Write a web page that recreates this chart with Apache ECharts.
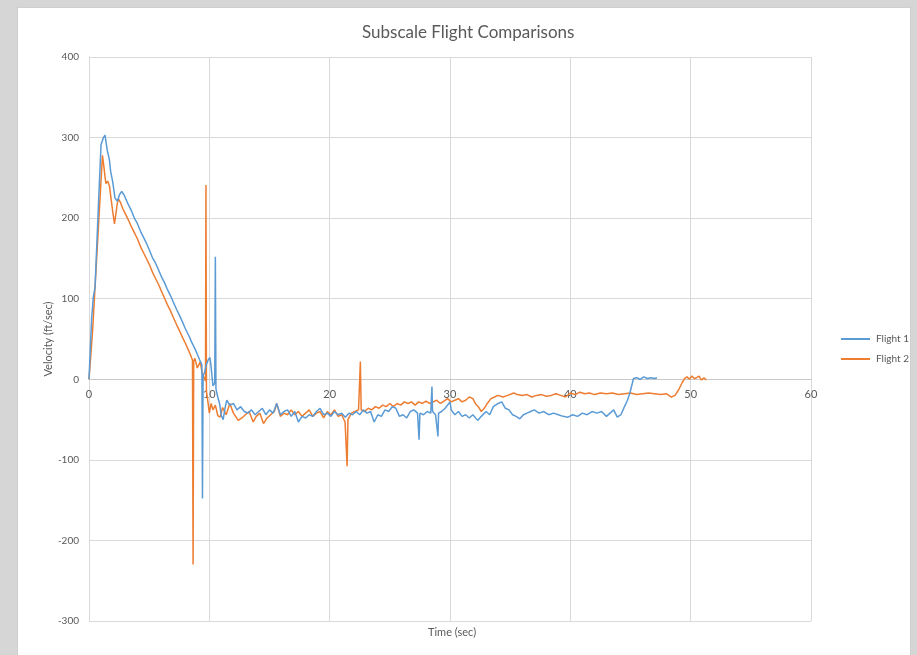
<!DOCTYPE html>
<html>
<head>
<meta charset="utf-8">
<title>Subscale Flight Comparisons</title>
<script src="https://cdn.jsdelivr.net/npm/echarts@6/dist/echarts.min.js"></script>
<style>
  html, body { margin: 0; padding: 0; background: #d6d6d6; }
  #panel { position: absolute; left: 17px; top: 7px; width: 894px; height: 660px; background: #ffffff; border: 1px solid #cfcfcf; box-sizing: border-box; }
  #chart { position: absolute; left: 0; top: 0; width: 917px; height: 655px; }
</style>
</head>
<body>
<div id="panel"></div>
<div id="chart"></div>
<script>
// Axis setup
const timeTicks = [0, 10, 20, 30, 40, 50, 60];
const velocityTicks = [-300, -200, -100, 0, 100, 200, 300, 400];
const seriesNames = ['Flight 1', 'Flight 2'];

// Flight 1: [time (sec), velocity (ft/sec)]
const flight1 = [
  [0, 0], [0.22, 76], [0.36, 102], [0.5, 114], [0.8, 222], [1.0, 291], [1.2, 300], [1.33, 303],
  [1.52, 284], [1.69, 273], [1.8, 258], [1.97, 245], [2.16, 225], [2.36, 221], [2.53, 229],
  [2.72, 233], [2.91, 229], [3.2, 219], [3.5, 210], [3.8, 199], [4.0, 194], [4.3, 183],
  [4.5, 177], [4.8, 168], [5.0, 161], [5.3, 150], [5.5, 145], [5.8, 135], [6.0, 128],
  [6.3, 119], [6.5, 112], [6.8, 103], [7.0, 96], [7.3, 86], [7.5, 80], [7.8, 70], [8.0, 63],
  [8.3, 54], [8.5, 47], [8.8, 38], [9.0, 31], [9.2, 24], [9.38, 18], [9.43, -148], [9.48, 5],
  [9.6, 8], [9.75, 18], [9.9, 24], [10.05, 27], [10.15, 15], [10.3, -8], [10.45, -5],
  [10.5, 152], [10.55, -12], [10.7, -22], [10.85, -30], [11.0, -45], [11.15, -50], [11.3, -36],
  [11.45, -26], [11.7, -32], [12.0, -30], [12.3, -38], [12.6, -34], [12.9, -40], [13.2, -42],
  [13.5, -38], [13.8, -44], [14.1, -40], [14.4, -36], [14.7, -44], [15.0, -38], [15.3, -42],
  [15.6, -30], [15.9, -44], [16.2, -40], [16.5, -38], [16.8, -46], [17.1, -40], [17.4, -53],
  [17.7, -46], [18.0, -48], [18.3, -44], [18.6, -46], [18.9, -40], [19.2, -36], [19.5, -44],
  [19.8, -42], [20.1, -46], [20.4, -40], [20.7, -44], [21.0, -42], [21.3, -47], [21.6, -42],
  [21.9, -44], [22.2, -40], [22.5, -44], [22.8, -38], [23.1, -42], [23.4, -40], [23.7, -53],
  [24.0, -44], [24.3, -46], [24.6, -38], [24.9, -40], [25.2, -34], [25.5, -36], [25.8, -46],
  [26.1, -44], [26.4, -48], [26.7, -40], [27.0, -38], [27.3, -42], [27.43, -75], [27.5, -42],
  [27.8, -44], [28.1, -40], [28.4, -42], [28.5, -9], [28.55, -40], [28.8, -44], [29.0, -71],
  [29.05, -42], [29.3, -40], [29.6, -36], [30.0, -28], [30.1, -38], [30.4, -44], [30.7, -40],
  [31.0, -46], [31.3, -44], [31.6, -48], [31.9, -44], [32.3, -51], [32.6, -46], [33.0, -40],
  [33.3, -44], [33.6, -34], [34.0, -30], [34.3, -28], [34.6, -36], [34.9, -38], [35.2, -44],
  [35.5, -46], [35.8, -49], [36.1, -44], [36.4, -42], [36.7, -40], [37.0, -38], [37.4, -42],
  [37.8, -40], [38.2, -44], [38.6, -42], [39.0, -44], [39.4, -46], [39.8, -47], [40.2, -44],
  [40.6, -46], [41.0, -42], [41.4, -44], [41.8, -40], [42.2, -42], [42.6, -40], [43.0, -46],
  [43.3, -42], [43.6, -38], [43.9, -47], [44.2, -44], [44.5, -34], [44.75, -26], [44.95, -17],
  [45.1, -8], [45.25, 1], [45.5, 2], [45.8, 0], [46.1, 3], [46.4, 1], [46.7, 2], [47.0, 1],
  [47.2, 2]
];

// Flight 2: [time (sec), velocity (ft/sec)]
const flight2 = [
  [0, 0], [0.3, 60], [0.6, 140], [0.9, 220], [1.12, 278], [1.25, 262], [1.4, 243], [1.55, 246],
  [1.7, 240], [1.85, 222], [2.0, 205], [2.12, 193], [2.2, 195], [2.35, 218], [2.45, 224],
  [2.6, 220], [2.8, 212], [3.0, 206], [3.3, 197], [3.5, 190], [3.8, 181], [4.0, 175],
  [4.3, 164], [4.5, 158], [4.8, 149], [5.0, 143], [5.3, 132], [5.5, 126], [5.8, 117],
  [6.0, 110], [6.3, 100], [6.5, 93], [6.8, 84], [7.0, 77], [7.3, 67], [7.5, 61], [7.8, 51],
  [8.0, 45], [8.3, 35], [8.6, 24], [8.65, -230], [8.7, 22], [8.8, 26], [9.0, 14], [9.1, 12],
  [9.25, 22], [9.4, 8], [9.55, 2], [9.68, -2], [9.72, 241], [9.76, -15], [9.9, -30],
  [10.0, -42], [10.15, -30], [10.3, -38], [10.5, -32], [10.7, -45], [10.9, -47], [11.1, -35],
  [11.4, -44], [11.7, -30], [12.0, -42], [12.4, -51], [12.7, -48], [13.0, -44], [13.3, -40],
  [13.65, -53], [13.9, -46], [14.2, -42], [14.5, -55], [14.8, -48], [15.1, -44], [15.4, -40],
  [15.6, -30], [15.9, -46], [16.2, -42], [16.5, -44], [16.8, -38], [17.1, -44], [17.4, -40],
  [17.7, -46], [18.0, -42], [18.3, -38], [18.6, -46], [18.9, -42], [19.2, -40], [19.5, -48],
  [19.8, -40], [20.1, -44], [20.4, -38], [20.7, -46], [21.0, -44], [21.28, -53], [21.45, -108],
  [21.52, -50], [21.8, -42], [22.1, -40], [22.4, -38], [22.55, 22], [22.62, -38], [22.9, -40],
  [23.2, -36], [23.5, -38], [23.8, -34], [24.1, -36], [24.4, -32], [24.7, -34], [25.0, -30],
  [25.3, -34], [25.6, -30], [25.9, -32], [26.2, -28], [26.5, -30], [26.8, -28], [27.1, -32],
  [27.4, -28], [27.7, -30], [28.0, -27], [28.3, -30], [28.6, -28], [28.9, -26], [29.2, -30],
  [29.5, -27], [29.8, -24], [30.1, -28], [30.4, -26], [30.7, -24], [31.0, -28], [31.3, -26],
  [31.6, -22], [31.9, -24], [32.1, -30], [32.35, -34], [32.6, -40], [32.85, -36], [33.1, -30],
  [33.4, -24], [33.7, -22], [34.0, -20], [34.4, -22], [34.8, -20], [35.3, -17], [35.6, -19],
  [36.0, -20], [36.4, -19], [36.8, -22], [37.2, -20], [37.6, -19], [38.0, -21], [38.4, -20],
  [38.8, -18], [39.2, -20], [39.6, -22], [40.0, -17], [40.4, -19], [40.8, -16], [41.2, -18],
  [41.6, -17], [42.0, -19], [42.5, -17], [43.0, -18], [43.5, -17], [44.0, -19], [44.5, -18],
  [45.0, -17], [45.5, -19], [46.0, -18], [46.5, -17], [47.0, -18], [47.5, -19], [48.0, -18],
  [48.4, -22], [48.7, -20], [49.0, -13], [49.3, -4], [49.5, 1], [49.7, 3], [49.9, 0],
  [50.1, 4], [50.3, 1], [50.5, 2], [50.7, 4], [50.9, -1], [51.1, 2], [51.3, -1]
];

const textColor = '#595959';
const gridColor = '#d9d9d9';
const fontFamily = 'Lato, "Open Sans", sans-serif';

// plot area geometry; the time axis is drawn along the zero-velocity line
const gridTop = 57;
const gridBottom = 34;
const plotHeight = 655 - gridTop - gridBottom;
const vMin = velocityTicks[0];
const vMax = velocityTicks[velocityTicks.length - 1];
const zeroLift = Math.round(plotHeight * (0 - vMin) / (vMax - vMin));

const chart = echarts.init(document.getElementById('chart'), null, { renderer: 'canvas' });

chart.setOption({
  animation: false,
  textStyle: { fontFamily: fontFamily },
  title: [
    {
      text: 'Subscale Flight Comparisons',
      left: 357,
      top: 19,
      textStyle: { color: textColor, fontSize: 17, fontWeight: 'normal', fontFamily: fontFamily }
    },
    {
      // horizontal axis caption, placed under the plot area
      text: 'Time (sec)',
      left: 423,
      top: 622,
      textStyle: { color: textColor, fontSize: 11, fontWeight: 'normal', fontFamily: fontFamily }
    }
  ],
  legend: {
    orient: 'vertical',
    left: 836,
    top: 329,
    icon: 'rect',
    itemWidth: 29,
    itemHeight: 2,
    itemGap: 10,
    data: seriesNames,
    textStyle: { color: textColor, fontSize: 10, fontFamily: fontFamily, padding: [0, 0, 0, 1] }
  },
  grid: { left: 89, right: 106, top: gridTop, bottom: gridBottom, containLabel: false },
  xAxis: {
    type: 'value',
    min: timeTicks[0],
    max: timeTicks[timeTicks.length - 1],
    interval: 10,
    position: 'bottom',
    offset: -zeroLift,
    axisLine: { onZero: false, lineStyle: { color: '#c8c8c8', width: 1 } },
    axisTick: { show: false },
    axisLabel: { color: textColor, fontSize: 11, margin: 10, fontFamily: fontFamily },
    splitLine: { show: true, lineStyle: { color: gridColor, width: 1 } }
  },
  yAxis: {
    type: 'value',
    min: vMin,
    max: vMax,
    interval: 100,
    axisLine: { show: true, onZero: false, lineStyle: { color: gridColor } },
    axisTick: { show: false },
    axisLabel: { color: textColor, fontSize: 10, margin: 10, fontFamily: fontFamily },
    splitLine: { show: true, lineStyle: { color: gridColor, width: 1 } },
    name: 'Velocity (ft/sec)',
    nameLocation: 'middle',
    nameGap: 35,
    nameMoveOverlap: false,
    nameTextStyle: { color: textColor, fontSize: 11, fontFamily: fontFamily }
  },
  series: [
    {
      name: seriesNames[0],
      type: 'line',
      data: flight1,
      showSymbol: false,
      symbol: 'none',
      lineStyle: { color: '#5B9BD5', width: 1.5 },
      itemStyle: { color: '#5B9BD5' },
      z: 3
    },
    {
      name: seriesNames[1],
      type: 'line',
      data: flight2,
      showSymbol: false,
      symbol: 'none',
      lineStyle: { color: '#ED7D31', width: 1.5 },
      itemStyle: { color: '#ED7D31' },
      z: 2
    }
  ]
});
</script>
</body>
</html>
